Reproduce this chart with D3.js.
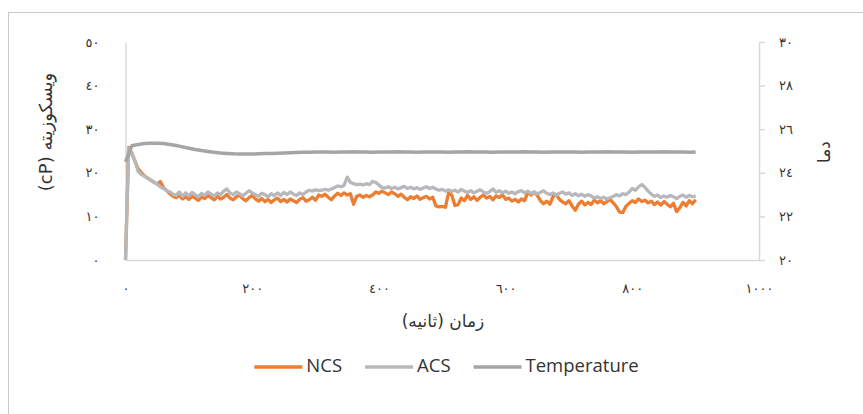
<!DOCTYPE html>
<html>
<head>
<meta charset="utf-8">
<script src="https://cdn.jsdelivr.net/npm/d3@7"></script>
<style>
  body { margin: 0; background: #fff; }
  .fa { font-family: "DejaVu Sans", sans-serif; fill: #333; }
</style>
</head>
<body>
<svg class="chart"></svg>
<script>
// viscosity samples (cP) every 5 s, temperature every 10 s
var sampleStep = 5, tempStep = 10;

var ncs = [0, 25.8, 24.5, 22.6, 20.9, 20.0, 19.3, 18.8, 18.3, 17.8,
  17.4, 18.0, 16.6, 15.9, 15.2, 14.6, 14.3, 14.8, 14.0, 14.5,
  13.9, 14.6, 14.2, 13.7, 14.5, 14.1, 14.8, 14.3, 13.8, 14.6,
  14.0, 14.4, 15.0, 14.2, 13.8, 14.5, 14.9, 14.1, 13.6, 14.3,
  14.8, 14.0, 13.5, 14.1, 13.4, 13.9, 13.2, 13.8, 14.2, 13.4,
  13.9, 13.3, 14.0, 13.6, 13.2, 13.9, 14.3, 13.5, 13.8, 14.4,
  13.7, 14.9, 14.6, 15.1, 14.4, 13.8, 14.7, 15.3, 14.8, 15.4,
  14.9, 15.2, 12.8, 14.6, 14.9, 14.4, 14.8, 14.5, 14.9, 15.6,
  15.3, 15.8, 15.4, 15.0, 15.6, 15.2, 14.6, 15.1, 14.4, 13.8,
  14.5, 14.1, 14.7, 13.9, 14.3, 14.6, 14.0, 14.4, 12.4, 12.2,
  12.3, 12.1, 15.4, 14.9, 12.5, 12.7, 14.2, 13.6, 14.8, 13.9,
  14.5, 13.7, 14.4, 14.9, 14.2, 14.6, 13.8, 14.7, 14.3, 15.0,
  13.9, 14.2, 13.5, 13.9, 13.3, 14.0, 13.6, 15.5, 14.9, 15.6,
  14.8, 13.6, 12.9, 13.5, 12.8, 14.6, 15.0, 13.9, 13.3, 12.9,
  13.6, 12.4, 11.4, 12.8, 13.5, 12.6, 13.2, 12.7, 13.8, 13.1,
  13.6, 12.9, 13.4, 13.9, 13.1, 12.2, 11.0, 10.9, 12.3, 13.0,
  13.6, 13.2, 14.0, 13.4, 13.7, 13.1, 13.5, 12.7, 13.3, 12.6,
  13.4, 12.8, 12.2, 13.0, 11.1, 12.0, 13.2, 12.4, 13.6, 12.9,
  13.8];

var acs = [0, 25.6, 24.2, 22.8, 20.3, 19.6, 19.2, 18.8, 18.3, 17.9,
  17.4, 16.8, 16.4, 15.9, 15.6, 15.1, 14.8, 15.6, 14.6, 15.4,
  14.7, 15.5, 15.0, 14.5, 15.3, 14.8, 15.6, 15.1, 14.6, 15.4,
  15.0, 15.8, 16.3, 15.4, 15.0, 15.6, 15.2, 14.7, 15.3, 15.9,
  15.4, 15.0, 14.6, 15.3, 15.0, 14.5, 15.2, 14.7, 15.4, 14.8,
  15.5, 15.0, 15.6, 15.1, 14.8, 15.4, 15.0, 15.6, 16.0, 15.8,
  16.1, 15.9, 16.0, 16.2, 16.0, 16.3, 16.6, 17.0, 16.8, 17.1,
  19.0, 17.8, 17.5, 17.3, 17.4, 17.2, 17.5, 17.3, 18.0, 17.8,
  17.2, 16.6, 16.5, 16.8, 16.4, 16.7, 16.3, 16.6, 16.9, 16.4,
  16.7, 16.3, 16.6, 16.2, 16.5, 16.8, 16.4, 16.7, 16.3, 16.0,
  16.2, 15.8, 16.1, 15.7, 16.0, 15.6, 16.2, 15.8, 15.5, 15.9,
  15.4, 15.8, 16.1, 15.6, 15.3, 15.7, 16.3, 15.5, 15.9, 15.4,
  15.8, 15.3, 15.6, 15.2, 15.7, 15.9, 15.4, 15.8, 15.3, 15.6,
  15.2, 15.5, 15.9, 15.3, 15.0, 15.4, 14.9, 15.3, 15.6, 15.1,
  15.4, 14.8, 15.2, 14.7, 15.1, 14.6, 15.0, 14.7, 14.2, 14.5,
  14.1, 14.4, 14.0, 14.3, 14.6, 15.0, 14.7, 15.2, 15.0, 15.6,
  16.4, 16.0, 16.8, 17.3, 16.7, 15.8, 15.1, 14.6, 14.9, 14.3,
  14.7, 14.4, 14.8, 14.5, 14.1, 14.6, 14.9, 14.4, 14.8, 14.5,
  14.7];

var temperature = [24.50, 25.24, 25.30, 25.34, 25.36, 25.36, 25.34, 25.30, 25.25, 25.19,
  25.13, 25.07, 25.02, 24.98, 24.94, 24.91, 24.89, 24.87, 24.86, 24.86,
  24.86, 24.87, 24.88, 24.89, 24.90, 24.91, 24.92, 24.93, 24.94, 24.94,
  24.95, 24.95, 24.95, 24.94, 24.95, 24.95, 24.96, 24.95, 24.95, 24.94,
  24.95, 24.95, 24.95, 24.96, 24.95, 24.95, 24.94, 24.95, 24.95, 24.95,
  24.95, 24.94, 24.95, 24.95, 24.96, 24.95, 24.95, 24.95, 24.94, 24.95,
  24.95, 24.95, 24.95, 24.96, 24.95, 24.95, 24.94, 24.95, 24.95, 24.95,
  24.95, 24.95, 24.94, 24.95, 24.95, 24.95, 24.96, 24.95, 24.95, 24.95,
  24.94, 24.95, 24.95, 24.95, 24.95, 24.96, 24.95, 24.95, 24.95, 24.94,
  24.95];

var seriesNames = ["NCS", "ACS", "Temperature"];
var seriesColors = ["#ed7d31", "#b7b8bb", "#a5a5a5"];

var xTicks = [0, 200, 400, 600, 800, 1000];
var xTickLabels = ["٠", "٢٠٠", "٤٠٠", "٦٠٠", "٨٠٠", "١٠٠٠"];
var leftTicks = [0, 10, 20, 30, 40, 50];
var leftTickLabels = ["٠", "١٠", "٢٠", "٣٠", "٤٠", "٥٠"];
var rightTicks = [20, 22, 24, 26, 28, 30];
var rightTickLabels = ["٢٠", "٢٢", "٢٤", "٢٦", "٢٨", "٣٠"];

var width = 863, height = 414;
var plot = {left: 125.5, right: 759, top: 42, bottom: 260};

var svg = d3.select(".chart")
    .attr("width", width)
    .attr("height", height);

// outer chart frame (runs off the right and bottom edges)
svg.append("rect")
    .attr("x", 8.5).attr("y", 12.5)
    .attr("width", 900).attr("height", 450)
    .attr("fill", "#fff")
    .attr("stroke", "#c9c9c9");

var x = d3.scaleLinear().domain([0, 1000]).range([plot.left, plot.right]);
var yLeft = d3.scaleLinear().domain([0, 50]).range([plot.bottom, plot.top]);
var yRight = d3.scaleLinear().domain([20, 30]).range([plot.bottom, plot.top]);

var axisColor = "#d9d9d9";

var gx = svg.append("g")
    .attr("transform", "translate(0," + plot.bottom + ")")
    .call(d3.axisBottom(x).tickValues(xTicks)
      .tickFormat(function(d, i) { return xTickLabels[i]; })
      .tickSize(0).tickPadding(24));

var gl = svg.append("g")
    .attr("transform", "translate(" + plot.left + ",0)")
    .call(d3.axisLeft(yLeft).tickValues(leftTicks)
      .tickFormat(function(d, i) { return leftTickLabels[i]; })
      .tickSize(0).tickPadding(26));

var gr = svg.append("g")
    .attr("transform", "translate(" + plot.right + ",0)")
    .call(d3.axisRight(yRight).tickValues(rightTicks)
      .tickFormat(function(d, i) { return rightTickLabels[i]; })
      .tickSizeInner(6).tickSizeOuter(0).tickPadding(14));

[gx, gl, gr].forEach(function(g) {
  g.select(".domain").attr("stroke", axisColor).attr("stroke-width", 1.5);
  g.selectAll(".tick line").attr("stroke", axisColor).attr("stroke-width", 1.5);
  g.selectAll("text")
    .attr("class", "fa")
    .attr("font-size", null)
    .attr("font-family", null)
    .style("font-size", "13px")
    .style("letter-spacing", "2px");
});

var lineLeft = d3.line()
    .x(function(d, i) { return x(i * sampleStep); })
    .y(function(d) { return yLeft(d); });

var lineTemp = d3.line()
    .x(function(d, i) { return x(i * tempStep); })
    .y(function(d) { return yRight(d); });

svg.append("path")
    .datum(ncs)
    .attr("d", lineLeft)
    .attr("fill", "none")
    .attr("stroke", seriesColors[0])
    .attr("stroke-width", 3.3)
    .attr("stroke-linejoin", "round");

svg.append("path")
    .datum(acs)
    .attr("d", lineLeft)
    .attr("fill", "none")
    .attr("stroke", seriesColors[1])
    .attr("stroke-width", 3.3)
    .attr("stroke-linejoin", "round");

svg.append("path")
    .datum(temperature)
    .attr("d", lineTemp)
    .attr("fill", "none")
    .attr("stroke", seriesColors[2])
    .attr("stroke-width", 3.5)
    .attr("stroke-linejoin", "round");

// axis titles
svg.append("text")
    .attr("class", "fa")
    .attr("transform", "translate(47,132) rotate(-90)")
    .attr("text-anchor", "middle")
    .attr("dominant-baseline", "middle")
    .attr("direction", "rtl")
    .style("font-size", "18px")
    .text("ویسکوزیته (cP)");

svg.append("text")
    .attr("class", "fa")
    .attr("transform", "translate(825,152) rotate(-90)")
    .attr("text-anchor", "middle")
    .attr("dominant-baseline", "middle")
    .attr("direction", "rtl")
    .style("font-size", "17px")
    .text("دما");

svg.append("text")
    .attr("class", "fa")
    .attr("x", 443)
    .attr("y", 322)
    .attr("text-anchor", "middle")
    .attr("dominant-baseline", "middle")
    .attr("direction", "rtl")
    .style("font-size", "17px")
    .text("زمان (ثانیه)");

// legend
var legend = svg.append("g");
var lx = 0;
seriesNames.forEach(function(name, i) {
  var item = legend.append("g").attr("transform", "translate(" + lx + ",0)");
  item.append("line")
      .attr("x1", 0).attr("x2", 48)
      .attr("y1", 0).attr("y2", 0)
      .attr("stroke", seriesColors[i])
      .attr("stroke-width", 3.5);
  var t = item.append("text")
      .attr("x", 52)
      .attr("y", 0)
      .attr("dominant-baseline", "middle")
      .style("font-family", "'Open Sans', sans-serif")
      .style("font-size", "18.5px")
      .attr("fill", "#333")
      .text(name);
  lx += 52 + t.node().getComputedTextLength() + 23;
});
var legendWidth = lx - 23;
legend.attr("transform", "translate(" + (446.5 - legendWidth / 2) + ",367)");
</script>
</body>
</html>
